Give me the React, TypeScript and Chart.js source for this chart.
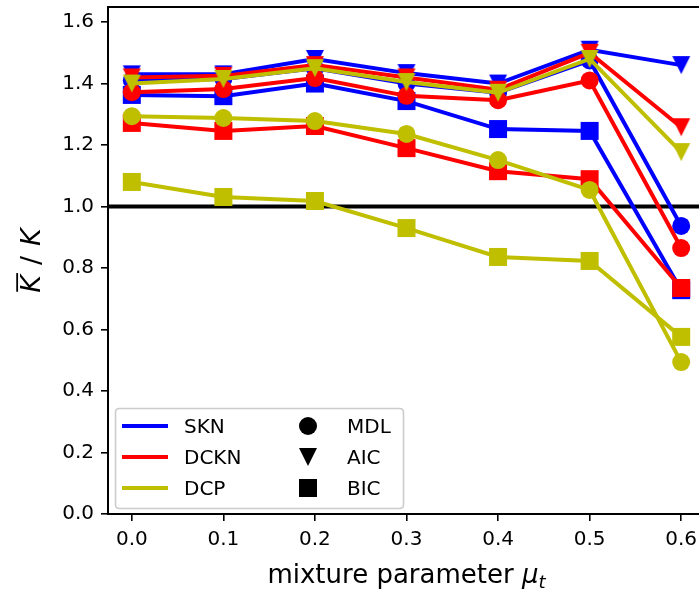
import React, { useEffect, useRef } from 'react';
import { Chart, registerables } from 'chart.js';

Chart.register(...registerables);

// ---------------- data ----------------
const muValues = [0.0, 0.1, 0.2, 0.3, 0.4, 0.5, 0.6];
const xTicks = [0.0, 0.1, 0.2, 0.3, 0.4, 0.5, 0.6];
const yTicks = [0.0, 0.2, 0.4, 0.6, 0.8, 1.0, 1.2, 1.4, 1.6];

const methodNames = ['SKN', 'DCKN', 'DCP'];
const methodColors = ['#0000ff', '#ff0000', '#bfbf00'];
const criterionNames = ['MDL', 'AIC', 'BIC'];
const criterionMarkers = ['circle', 'triangleDown', 'square'];

const sknMDL = [1.41, 1.415, 1.45, 1.40, 1.37, 1.475, 0.937];
const sknAIC = [1.43, 1.43, 1.48, 1.434, 1.40, 1.51, 1.46];
const sknBIC = [1.363, 1.359, 1.40, 1.343, 1.252, 1.246, 0.728];

const dcknMDL = [1.372, 1.382, 1.418, 1.36, 1.346, 1.41, 0.865];
const dcknAIC = [1.42, 1.425, 1.46, 1.42, 1.38, 1.50, 1.258];
const dcknBIC = [1.272, 1.246, 1.262, 1.19, 1.115, 1.089, 0.735];

const dcpMDL = [1.294, 1.288, 1.278, 1.236, 1.151, 1.054, 0.494];
const dcpAIC = [1.40, 1.415, 1.45, 1.405, 1.37, 1.48, 1.177];
const dcpBIC = [1.080, 1.031, 1.018, 0.930, 0.836, 0.823, 0.576];

const seriesTable = [
  [sknMDL, sknAIC, sknBIC],
  [dcknMDL, dcknAIC, dcknBIC],
  [dcpMDL, dcpAIC, dcpBIC],
];

const referenceLevel = 1.0;
const xMin = -0.026;
const xMax = 0.626;
const yMin = 0;
const yMax = 1.649;

// ---------------- styling ----------------
const FONT = '"DejaVu Sans", sans-serif';
const CANVAS_W = 720;
const CANVAS_H = 592;
const MARKER = 18;

function makeTriangle(color: string, size: number) {
  const pad = 2;
  const c = document.createElement('canvas');
  c.width = size + 2 * pad;
  c.height = size + 2 * pad;
  const ctx = c.getContext('2d')!;
  const h = size / 2;
  const cx = c.width / 2;
  ctx.fillStyle = color;
  ctx.beginPath();
  ctx.moveTo(cx - h, cx - h);
  ctx.lineTo(cx + h, cx - h);
  ctx.lineTo(cx, cx + h);
  ctx.closePath();
  ctx.fill();
  return c;
}

function drawMarker(ctx: CanvasRenderingContext2D, shape: string, x: number, y: number, size: number, color: string) {
  const h = size / 2;
  ctx.fillStyle = color;
  ctx.beginPath();
  if (shape === 'circle') ctx.arc(x, y, h, 0, Math.PI * 2);
  else if (shape === 'square') ctx.rect(x - h, y - h, size, size);
  else {
    ctx.moveTo(x - h, y - h);
    ctx.lineTo(x + h, y - h);
    ctx.lineTo(x, y + h);
    ctx.closePath();
  }
  ctx.fill();
}

const refLinePlugin = {
  id: 'refLine',
  beforeDatasetsDraw(chart: any) {
    const { ctx, chartArea, scales } = chart;
    const y = scales.y.getPixelForValue(referenceLevel);
    ctx.save();
    ctx.strokeStyle = '#000';
    ctx.lineWidth = 4;
    ctx.beginPath();
    ctx.moveTo(chartArea.left, y);
    ctx.lineTo(chartArea.right, y);
    ctx.stroke();
    ctx.restore();
  },
};

const decorPlugin = {
  id: 'decor',
  afterDraw(chart: any) {
    const { ctx, chartArea } = chart;
    ctx.save();
    // top spine
    ctx.strokeStyle = '#000';
    ctx.lineWidth = 2;
    ctx.beginPath();
    ctx.moveTo(chartArea.left - 1, chartArea.top);
    ctx.lineTo(chartArea.right, chartArea.top);
    ctx.stroke();

    // x axis title
    const size = 26;
    const normal = `${size}px ${FONT}`;
    const italic = `oblique ${size}px ${FONT}`;
    const subItalic = `oblique ${size * 0.7}px ${FONT}`;
    const p1 = 'mixture parameter ';
    ctx.font = normal;
    const w1 = ctx.measureText(p1).width;
    ctx.font = italic;
    const w2 = ctx.measureText('μ').width;
    ctx.font = subItalic;
    const w3 = ctx.measureText('t').width;
    const total = w1 + w2 + w3;
    const cx = (chartArea.left + chartArea.right) / 2;
    let x = cx - total / 2;
    const baseY = 583;
    ctx.fillStyle = '#000';
    ctx.textBaseline = 'alphabetic';
    ctx.textAlign = 'left';
    ctx.font = normal;
    ctx.fillText(p1, x, baseY);
    x += w1;
    ctx.font = italic;
    ctx.fillText('μ', x, baseY);
    x += w2;
    ctx.font = subItalic;
    ctx.fillText('t', x, baseY + 5);

    // y axis title (rotated)
    const cy = (chartArea.top + chartArea.bottom) / 2;
    ctx.translate(30, cy);
    ctx.rotate(-Math.PI / 2);
    const ySize = 27;
    const yItalic = `oblique ${ySize}px ${FONT}`;
    const yNormal = `${ySize}px ${FONT}`;
    ctx.font = yItalic;
    const wk = ctx.measureText('K').width;
    ctx.font = yNormal;
    const wslash = ctx.measureText('/').width;
    const gap = 10;
    const totalY = wk * 2 + wslash + gap * 2;
    let tx = -totalY / 2;
    const by = 0.729 * ySize / 2;
    ctx.font = yItalic;
    ctx.fillText('K', tx, by);
    ctx.lineWidth = 1.8;
    ctx.beginPath();
    ctx.moveTo(tx + 1, by - 0.729 * ySize - 3);
    ctx.lineTo(tx + wk + 2, by - 0.729 * ySize - 3);
    ctx.stroke();
    tx += wk + gap;
    ctx.font = yNormal;
    ctx.fillText('/', tx, by);
    tx += wslash + gap;
    ctx.font = yItalic;
    ctx.fillText('K', tx, by);
    ctx.restore();

    // legend
    ctx.save();
    const bx = 115.5, byy = 408.5, bw = 288, bh = 100, r = 4;
    ctx.beginPath();
    ctx.moveTo(bx + r, byy);
    ctx.lineTo(bx + bw - r, byy);
    ctx.quadraticCurveTo(bx + bw, byy, bx + bw, byy + r);
    ctx.lineTo(bx + bw, byy + bh - r);
    ctx.quadraticCurveTo(bx + bw, byy + bh, bx + bw - r, byy + bh);
    ctx.lineTo(bx + r, byy + bh);
    ctx.quadraticCurveTo(bx, byy + bh, bx, byy + bh - r);
    ctx.lineTo(bx, byy + r);
    ctx.quadraticCurveTo(bx, byy, bx + r, byy);
    ctx.closePath();
    ctx.fillStyle = 'rgba(255,255,255,0.8)';
    ctx.fill();
    ctx.strokeStyle = '#cccccc';
    ctx.lineWidth = 1.6;
    ctx.stroke();

    ctx.font = `20px ${FONT}`;
    ctx.textBaseline = 'alphabetic';
    ctx.textAlign = 'left';
    for (let i = 0; i < 3; i++) {
      const rowY = 426 + i * 31;
      ctx.strokeStyle = methodColors[i];
      ctx.lineWidth = 4;
      ctx.beginPath();
      ctx.moveTo(122, rowY);
      ctx.lineTo(168, rowY);
      ctx.stroke();
      ctx.fillStyle = '#000';
      ctx.fillText(methodNames[i], 184, rowY + 7.3);
      drawMarker(ctx, criterionMarkers[i], 308, rowY, MARKER, '#000');
      ctx.fillStyle = '#000';
      ctx.fillText(criterionNames[i], 347, rowY + 7.3);
    }
    ctx.restore();
  },
};

export default function App() {
  const canvasRef = useRef<HTMLCanvasElement | null>(null);

  useEffect(() => {
    const canvas = canvasRef.current;
    if (!canvas) return;

    const datasets: any[] = [];
    const nSets = methodNames.length * criterionNames.length;
    let idx = 0;
    methodNames.forEach((name, mi) => {
      criterionNames.forEach((crit, ci) => {
        const values = seriesTable[mi][ci];
        const shape = criterionMarkers[ci];
        let pointStyle: any = 'circle';
        let pointRadius = MARKER / 2;
        if (shape === 'square') {
          pointStyle = 'rect';
          pointRadius = MARKER / 2 / Math.SQRT1_2;
        } else if (shape === 'triangleDown') {
          pointStyle = makeTriangle(methodColors[mi], MARKER);
        }
        datasets.push({
          label: `${name} ${crit}`,
          data: muValues.map((x, i) => ({ x, y: values[i] })),
          borderColor: methodColors[mi],
          backgroundColor: methodColors[mi],
          pointBackgroundColor: methodColors[mi],
          pointBorderWidth: 0,
          pointRadius,
          pointStyle,
          borderWidth: 4,
          tension: 0,
          fill: false,
          order: nSets - idx,
        });
        idx++;
      });
    });

    const tickFont = { family: FONT, size: 20 };

    const chart = new Chart(canvas, {
      type: 'line',
      data: { datasets },
      options: {
        animation: false,
        responsive: false,
        devicePixelRatio: 1,
        layout: { autoPadding: false, padding: { top: 7, right: CANVAS_W - 705, left: 0, bottom: 0 } },
        plugins: {
          legend: { display: false },
          tooltip: { enabled: false },
        },
        scales: {
          x: {
            type: 'linear',
            min: xMin,
            max: xMax,
            afterBuildTicks: (s: any) => {
              s.ticks = xTicks.map((v) => ({ value: v }));
            },
            afterFit: (s: any) => {
              s.height = CANVAS_H - 514;
              s.paddingLeft = 0;
              s.paddingRight = 0;
            },
            ticks: {
              callback: (v: any) => Number(v).toFixed(1),
              font: tickFont,
              color: '#000',
              padding: 7,
              maxRotation: 0,
              autoSkip: false,
            },
            grid: { drawOnChartArea: false, tickLength: 7, color: '#000', lineWidth: 1.6 },
            border: { color: '#000', width: 2 },
          },
          y: {
            type: 'linear',
            min: yMin,
            max: yMax,
            afterBuildTicks: (s: any) => {
              s.ticks = yTicks.map((v) => ({ value: v }));
            },
            afterFit: (s: any) => {
              s.width = 108;
              s.paddingTop = 0;
              s.paddingBottom = 0;
            },
            ticks: {
              callback: (v: any) => Number(v).toFixed(1),
              font: tickFont,
              color: '#000',
              padding: 7,
              autoSkip: false,
            },
            grid: { drawOnChartArea: false, tickLength: 7, color: '#000', lineWidth: 1.6 },
            border: { color: '#000', width: 2 },
          },
        },
      } as any,
      plugins: [refLinePlugin, decorPlugin],
    });

    return () => chart.destroy();
  }, []);

  return (
    <div style={{ position: 'absolute', left: 0, top: 0, width: 699, height: 592, overflow: 'hidden', background: '#fff' }}>
      <canvas ref={canvasRef} width={CANVAS_W} height={CANVAS_H} style={{ display: 'block', width: CANVAS_W, height: CANVAS_H }} />
    </div>
  );
}
